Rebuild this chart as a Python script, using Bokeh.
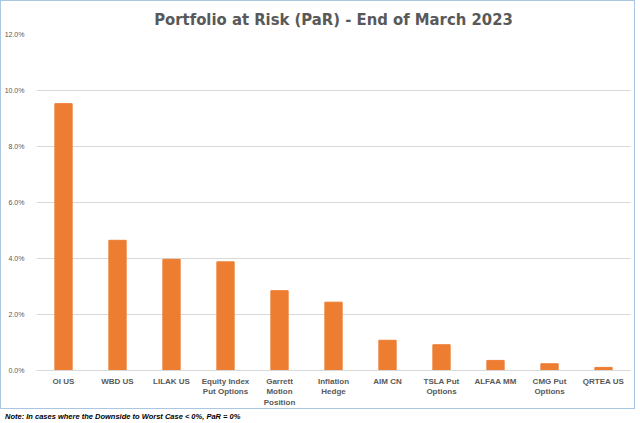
from bokeh.plotting import figure
from bokeh.models import Range1d, NumeralTickFormatter, FixedTicker, Div
from bokeh.layouts import column
from bokeh.embed import file_html
from bokeh.resources import INLINE

categories = ["OI US", "WBD US", "LILAK US", "Equity Index\nPut Options",
              "Garrett\nMotion\nPosition", "Inflation\nHedge", "AIM CN",
              "TSLA Put\nOptions", "ALFAA MM", "CMG Put\nOptions", "QRTEA US"]
par_values = [0.0953, 0.0465, 0.0397, 0.0388, 0.0285, 0.0244, 0.0108,
              0.0092, 0.0036, 0.0024, 0.0011]
y_ticks = [0.0, 0.02, 0.04, 0.06, 0.08, 0.10, 0.12]

TITLE = "Portfolio at Risk (PaR) - End of March 2023"
NOTE = "Note: In cases where the Downside to Worst Case < 0%, PaR = 0%"

TITLE_FONT = "DejaVu Sans Condensed, Roboto Condensed, Roboto, sans-serif"
FONT = "Liberation Sans"
GRAY = "#595959"

p = figure(x_range=categories, y_range=Range1d(0, 0.12),
           frame_width=592, frame_height=334, output_backend="svg",
           toolbar_location=None, title=TITLE,
           min_border_left=0, min_border_right=6, min_border_top=0,
           min_border_bottom=0)

p.vbar(x=categories, top=par_values, width=0.32, color="#ED7D31")

p.title.align = "center"
p.title.text_font = TITLE_FONT
p.title.text_font_size = "16.5px"
p.title.text_font_style = "bold"
p.title.text_color = GRAY
p.title.standoff = 12

p.outline_line_color = None
p.xgrid.grid_line_color = None
p.ygrid.grid_line_color = "#D9D9D9"
p.ygrid.grid_line_width = 1

p.yaxis.ticker = FixedTicker(ticks=y_ticks)
p.yaxis.formatter = NumeralTickFormatter(format="0.0%")
p.yaxis.axis_line_color = None
p.yaxis.major_tick_line_color = None
p.yaxis.minor_tick_line_color = None
p.yaxis.major_label_text_font = FONT
p.yaxis.major_label_text_font_size = "7px"
p.yaxis.major_label_text_color = GRAY
p.yaxis.major_label_standoff = 6

p.xaxis.axis_line_color = "#D9D9D9"
p.xaxis.major_tick_line_color = None
p.xaxis.minor_tick_line_color = None
p.xaxis.major_label_text_font = FONT
p.xaxis.major_label_text_font_size = "8px"
p.xaxis.major_label_text_font_style = "bold"
p.xaxis.major_label_text_color = GRAY
p.xaxis.major_label_standoff = 0

p.styles = {"border": "1px solid #A9C6E2"}

note = Div(text=NOTE, width=624, height=14,
           styles={"font-family": "Liberation Sans, Arial, sans-serif",
                   "font-size": "7.5px", "font-weight": "bold",
                   "font-style": "italic", "color": "#000000",
                   "margin-top": "3px"})

layout = column(p, note, spacing=0)

open("out.html", "w").write(file_html(layout, INLINE))
